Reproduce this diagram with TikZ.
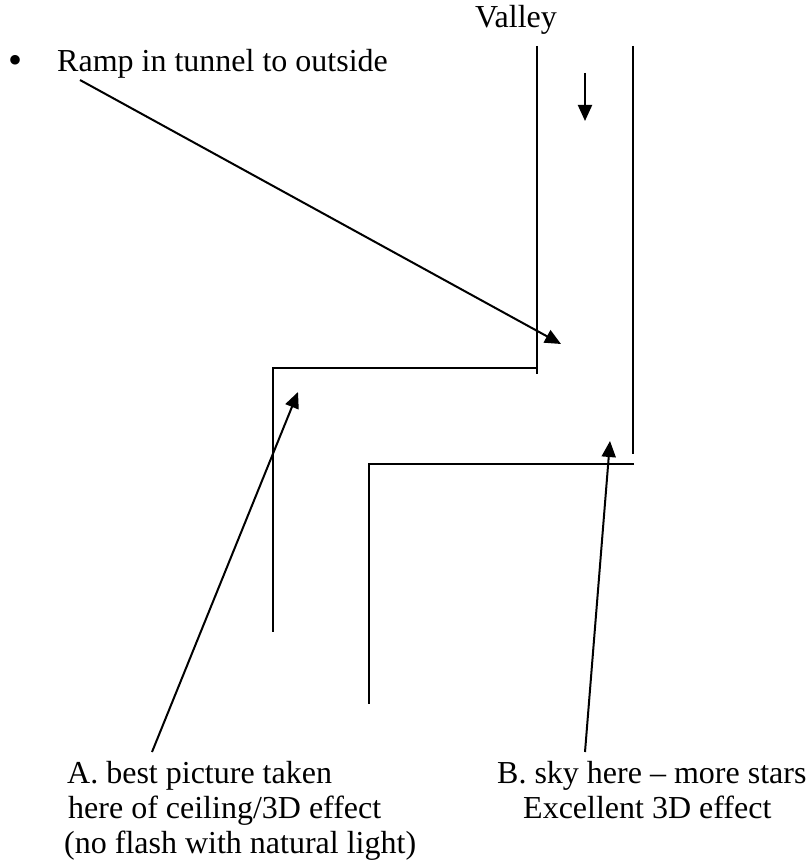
\documentclass[tikz,border=0pt]{standalone}
\usepackage{fontspec}
\setmainfont{Liberation Serif}
\usetikzlibrary{arrows.meta}
\begin{document}
\begin{tikzpicture}[x=1pt,y=-1pt,
  wall/.style={line width=2.5pt},
  ptr/.style={line width=2pt,-{Triangle[length=16pt,width=14pt]}},
  lbl/.style={inner sep=0pt,font=\fontsize{32}{35}\selectfont}]
\useasboundingbox (0,0) rectangle (808,864);
% walls
\coordinate (w1a) at (537,46); \coordinate (w1b) at (537,374);
\coordinate (w2a) at (633,46); \coordinate (w2b) at (633,454);
\coordinate (h1a) at (273,368); \coordinate (h1b) at (537,368);
\coordinate (h2a) at (369,464); \coordinate (h2b) at (634,464);
\coordinate (v1b) at (273,632);
\coordinate (v2b) at (369,704);
\draw[wall] (w1a) -- (w1b);
\draw[wall] (w2a) -- (w2b);
\draw[wall] (h1b) -- (h1a) -- (v1b);
\draw[wall] (h2b) -- (h2a) -- (v2b);
% labels
\node[lbl,anchor=base] (valley) at (516,28) {Valley};
\node[lbl,anchor=base west] (ramp) at (57,72) {Ramp in tunnel to outside};
\node[lbl,anchor=base west,font=\fontsize{40}{40}\selectfont] (bullet) at (8,74) {•};
\node[lbl,anchor=base west] (a1) at (67,783) {A. best picture taken};
\node[lbl,anchor=base west] (a2) at (68,818) {here of ceiling/3D effect};
\node[lbl,anchor=base west] (a3) at (64,853) {(no flash with natural light)};
\node[lbl,anchor=base west] (b1) at (497,783) {B. sky here -- more stars};
\node[lbl,anchor=base west] (b2) at (523,818) {Excellent 3D effect};
% arrows
\coordinate (dA) at (585,73); \coordinate (dB) at (585,121);
\draw[ptr] (dA) -- (dB);
\coordinate (rs) at (80,80); \coordinate (rt) at (561,344);
\draw[ptr] (rs) -- (rt);
\coordinate (as) at (152,752); \coordinate (at) at (298,392);
\draw[ptr] (as) -- (at);
\coordinate (bs) at (585,752); \coordinate (bt) at (610,441);
\draw[ptr] (bs) -- (bt);
\end{tikzpicture}
\end{document}
